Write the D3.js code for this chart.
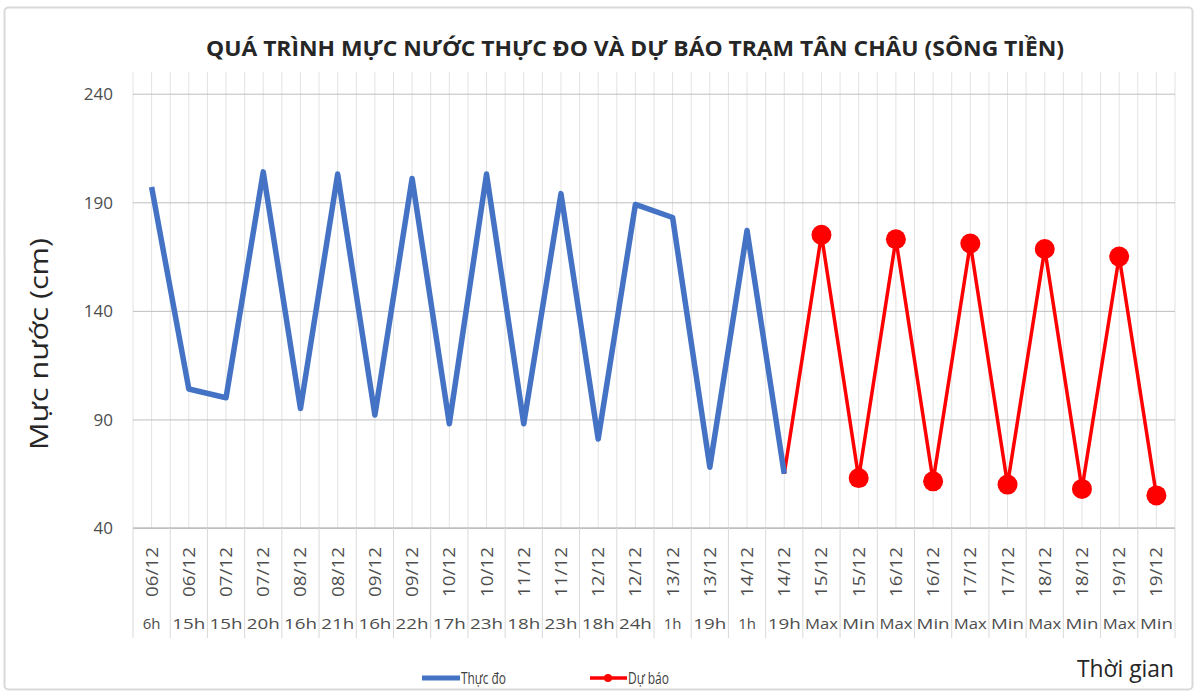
<!DOCTYPE html>
<html>
<head>
<meta charset="utf-8">
<script src="https://cdn.jsdelivr.net/npm/d3@7"></script>
<style>
  body { margin: 0; background: #fff; }
  svg text { font-family: "Open Sans", "Liberation Sans", sans-serif; }
</style>
</head>
<body>
<svg id="chart"></svg>
<script>
var dates = ["06/12","06/12","07/12","07/12","08/12","08/12","09/12","09/12","10/12","10/12",
             "11/12","11/12","12/12","12/12","13/12","13/12","14/12","14/12",
             "15/12","15/12","16/12","16/12","17/12","17/12","18/12","18/12","19/12","19/12"];
var hours = ["6h","15h","15h","20h","16h","21h","16h","22h","17h","23h",
             "18h","23h","18h","24h","1h","19h","1h","19h",
             "Max","Min","Max","Min","Max","Min","Max","Min","Max","Min"];
var observed = [197, 104, 100, 204, 95, 203, 92, 201, 88, 203, 88, 194, 81, 189, 183, 68, 177, 65];
// forecast starts at the last observed point (14/12 19h)
var forecast = [65, 175, 63, 173, 61.5, 171, 60, 168.5, 58, 165, 55];
var yTicks = [40, 90, 140, 190, 240];

var W = 1196, H = 693;
var margin = {top: 72, right: 21, bottom: 165, left: 133},
    width = W - margin.left - margin.right,
    height = H - margin.top - margin.bottom;

var svg = d3.select("#chart").attr("width", W).attr("height", H);

// outer frame
svg.append("rect")
    .attr("x", 4.5).attr("y", 7.5)
    .attr("width", W - 8).attr("height", H - 11)
    .attr("rx", 4)
    .attr("fill", "#fff").attr("stroke", "#d9d9d9").attr("stroke-width", 2);

var g = svg.append("g").attr("transform", "translate(" + margin.left + "," + margin.top + ")");

var idx = d3.range(dates.length);
var x = d3.scaleBand().domain(idx).range([0, width]);
var y = d3.scaleLinear().domain([40, 250]).range([height, 0]);
var cx = i => x(i) + x.bandwidth() / 2;

// vertical grid: category boundaries and centres
var vlines = [];
idx.forEach(i => { vlines.push(x(i)); vlines.push(cx(i)); });
vlines.push(width);
g.append("g").selectAll("line")
    .data(vlines)
    .join("line")
    .attr("x1", d => d).attr("x2", d => d)
    .attr("y1", 0).attr("y2", height)
    .attr("stroke", "#e3e3e3").attr("stroke-width", 1);

// y axis with horizontal grid
var yAxis = g.append("g")
    .call(d3.axisLeft(y).tickValues(yTicks).tickSize(-width).tickPadding(20));
yAxis.select(".domain").remove();
yAxis.selectAll(".tick line").attr("stroke", "#bfbfbf").attr("stroke-width", 1);
yAxis.selectAll(".tick text")
    .attr("fill", "#4d4d4d")
    .style("font-size", "17px")
    .attr("dy", "0.35em");

// x axis: category separators and two label rows
var xg = g.append("g").attr("transform", "translate(0," + height + ")");
xg.append("line")
    .attr("x1", 0).attr("x2", width)
    .attr("stroke", "#bfbfbf").attr("stroke-width", 1.5);
xg.selectAll("line.sep")
    .data(idx.concat([dates.length]))
    .join("line")
    .attr("class", "sep")
    .attr("x1", i => i < dates.length ? x(i) : width)
    .attr("x2", i => i < dates.length ? x(i) : width)
    .attr("y1", 0).attr("y2", 110)
    .attr("stroke", "#d9d9d9");
xg.selectAll("text.date")
    .data(idx)
    .join("text")
    .attr("class", "date")
    .attr("transform", i => "translate(" + (cx(i) + 6) + ",44) rotate(-90)")
    .attr("text-anchor", "middle")
    .attr("fill", "#4d4d4d")
    .attr("textLength", 50)
    .attr("lengthAdjust", "spacingAndGlyphs")
    .style("font-size", "16.5px")
    .text(i => dates[i]);
xg.selectAll("text.hour")
    .data(idx)
    .join("text")
    .attr("class", "hour")
    .attr("x", i => cx(i))
    .attr("y", 101)
    .attr("text-anchor", "middle")
    .attr("fill", "#4d4d4d")
    .attr("textLength", i => hours[i].length > 2 ? 33 : null)
    .attr("lengthAdjust", "spacingAndGlyphs")
    .style("font-size", "15px")
    .text(i => hours[i]);

// lines
var line = d3.line().x(d => cx(d.i)).y(d => y(d.v));
var obsData = observed.map((v, i) => ({i: i, v: v}));
var fcData = forecast.map((v, k) => ({i: k + observed.length - 1, v: v}));

g.append("path")
    .datum(fcData)
    .attr("fill", "none")
    .attr("stroke", "#ff0000")
    .attr("stroke-width", 3.5)
    .attr("stroke-linejoin", "round")
    .attr("d", line);

g.append("path")
    .datum(obsData)
    .attr("fill", "none")
    .attr("stroke", "#4472c4")
    .attr("stroke-width", 5.5)
    .attr("stroke-linejoin", "round")
    .attr("d", line);

g.selectAll("circle.fc")
    .data(fcData.slice(1))
    .join("circle")
    .attr("class", "fc")
    .attr("cx", d => cx(d.i))
    .attr("cy", d => y(d.v))
    .attr("r", 10)
    .attr("fill", "#ff0000");

// title
svg.append("text")
    .attr("x", 635).attr("y", 56)
    .attr("text-anchor", "middle")
    .attr("fill", "#262626")
    .attr("textLength", 858)
    .attr("lengthAdjust", "spacingAndGlyphs")
    .style("font-size", "21px")
    .style("font-weight", "bold")
    .text("QUÁ TRÌNH MỰC NƯỚC THỰC ĐO VÀ DỰ BÁO TRẠM TÂN CHÂU (SÔNG TIỀN)");

// y title
svg.append("text")
    .attr("transform", "translate(48,344) rotate(-90)")
    .attr("text-anchor", "middle")
    .attr("fill", "#262626")
    .attr("textLength", 212)
    .attr("lengthAdjust", "spacingAndGlyphs")
    .style("font-size", "25px")
    .text("Mực nước (cm)");

// x title
svg.append("text")
    .attr("x", 1174).attr("y", 677)
    .attr("text-anchor", "end")
    .attr("fill", "#262626")
    .attr("textLength", 97)
    .attr("lengthAdjust", "spacingAndGlyphs")
    .style("font-size", "23px")
    .text("Thời gian");

// legend
var legend = svg.append("g").attr("transform", "translate(0,678)");
legend.append("line")
    .attr("x1", 422).attr("x2", 460)
    .attr("stroke", "#4472c4").attr("stroke-width", 5);
legend.append("text")
    .attr("x", 461).attr("y", 6)
    .attr("fill", "#404040")
    .attr("textLength", 45)
    .attr("lengthAdjust", "spacingAndGlyphs")
    .style("font-size", "16px")
    .text("Thực đo");
legend.append("line")
    .attr("x1", 590).attr("x2", 627)
    .attr("stroke", "#ff0000").attr("stroke-width", 3.5);
legend.append("circle")
    .attr("cx", 608).attr("r", 4)
    .attr("fill", "#ff0000");
legend.append("text")
    .attr("x", 628).attr("y", 6)
    .attr("fill", "#404040")
    .attr("textLength", 41)
    .attr("lengthAdjust", "spacingAndGlyphs")
    .style("font-size", "16px")
    .text("Dự báo");
</script>
</body>
</html>
